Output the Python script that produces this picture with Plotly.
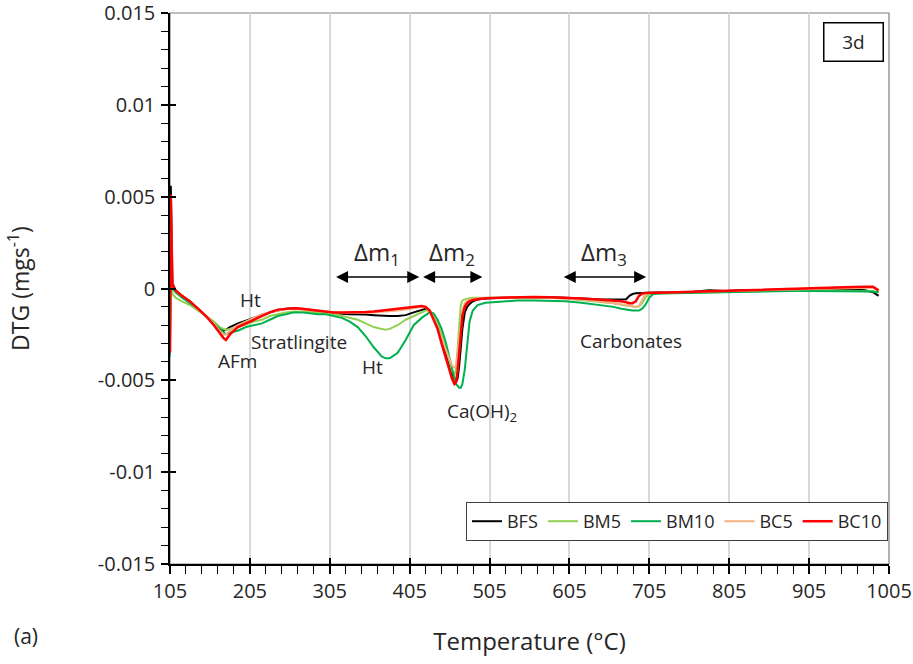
import plotly.graph_objects as go

temperature = [105, 106, 108, 112, 120, 130, 140, 150, 160, 167, 172, 175, 180, 190, 200, 210, 220, 230, 240, 250,
               260, 270, 280, 290, 300, 310, 320, 330, 340, 350, 360, 370, 375, 380, 390, 400, 410, 420, 425, 430,
               435, 440, 445, 450, 455, 458, 461, 463, 465, 467, 469, 471, 474, 477, 480, 484, 490, 500, 520, 540,
               560, 580, 600, 620, 640, 660, 670, 676, 680, 684, 688, 692, 696, 700, 705, 710, 720, 740, 760, 780,
               800, 820, 840, 860, 880, 900, 920, 940, 960, 975, 985, 992]

bfs = [-0.0030, 0.0056, 0.0003, -0.0001, -0.0004, -0.0007, -0.0011, -0.0015, -0.0019, -0.0022,
       -0.0023, -0.00225, -0.0021, -0.0019, -0.00175, -0.0016, -0.00145, -0.0013, -0.0012, -0.0011,
       -0.00108, -0.0011, -0.00115, -0.00125, -0.0013, -0.00135, -0.00138, -0.0014, -0.0014, -0.00142,
       -0.00145, -0.00148, -0.0015, -0.0015, -0.0015, -0.00145, -0.0013, -0.00118, -0.0011, -0.0012,
       -0.0016, -0.0021, -0.0028, -0.0035, -0.0042, -0.0047, -0.0050, -0.0051, -0.0049, -0.0042,
       -0.0032, -0.0022, -0.0013, -0.0010, -0.00085, -0.0007, -0.0006, -0.00055, -0.0005, -0.00048,
       -0.00047, -0.00048, -0.0005, -0.00055, -0.00058, -0.0006, -0.0006, -0.00058, -0.0004, -0.0003,
       -0.00026, -0.00025, -0.00024, -0.00024, -0.00023, -0.00022, -0.00021, -0.0002, -0.00018, -0.0001,
       -0.00013, -0.0001, -0.0001, -0.00008, -0.00006, -0.00005, -0.00004, -0.00004, -0.00005, -0.0001,
       -0.0002, -0.0004]

bm5 = [-0.0028, 0.0012, -0.0003, -0.0005, -0.0007, -0.0009, -0.0012, -0.0015, -0.0018, -0.0021,
       -0.0022, -0.00225, -0.0022, -0.0021, -0.00195, -0.0018, -0.0017, -0.0015, -0.0014, -0.0013,
       -0.00125, -0.00125, -0.00128, -0.0013, -0.00135, -0.0014, -0.0015, -0.0016, -0.0017, -0.0019,
       -0.0021, -0.0022, -0.00225, -0.0022, -0.0020, -0.0017, -0.0015, -0.0013, -0.0012, -0.0012,
       -0.0015, -0.0019, -0.0025, -0.0032, -0.0040, -0.0045, -0.0047, -0.0044, -0.0033, -0.0018,
       -0.0009, -0.00065, -0.00058, -0.00055, -0.00053, -0.0005, -0.0005, -0.0005, -0.00048, -0.00047,
       -0.00048, -0.0005, -0.00055, -0.00062, -0.0007, -0.0008, -0.00088, -0.00092, -0.00095, -0.00098,
       -0.0010, -0.00098, -0.0008, -0.0005, -0.0003, -0.00026, -0.00025, -0.00024, -0.00022, -0.0002,
       -0.00018, -0.00016, -0.00015, -0.00014, -0.00013, -0.00012, -0.00012, -0.00012, -0.00013, -0.00014,
       -0.00015, -0.0002]

bm10 = [-0.0037, 0.0003, 0.0, -0.0002, -0.0005, -0.0008, -0.0011, -0.0015, -0.0019, -0.0022,
        -0.0024, -0.0025, -0.0024, -0.0023, -0.0021, -0.0020, -0.0019, -0.0017, -0.0015, -0.0014,
        -0.0013, -0.0013, -0.00135, -0.0014, -0.0014, -0.0015, -0.0016, -0.0018, -0.0021, -0.0026,
        -0.0032, -0.0037, -0.0038, -0.0038, -0.0035, -0.0028, -0.0020, -0.0016, -0.00145, -0.0013,
        -0.00135, -0.0017, -0.0022, -0.0029, -0.0038, -0.0044, -0.0049, -0.0052, -0.0053, -0.0054,
        -0.0054, -0.0052, -0.0044, -0.0029, -0.0018, -0.0012, -0.0009, -0.00078, -0.0007, -0.00065,
        -0.00065, -0.00068, -0.0007, -0.00078, -0.00088, -0.0010, -0.0011, -0.00115, -0.00117, -0.0012,
        -0.0012, -0.0012, -0.0011, -0.0009, -0.0005, -0.0003, -0.00027, -0.00025, -0.00023, -0.00021,
        -0.0002, -0.00018, -0.00016, -0.00015, -0.00014, -0.00013, -0.00013, -0.00013, -0.00014, -0.00015,
        -0.00016, -0.0002]

bc5 = [-0.0032, 0.0045, 0.0002, -0.0001, -0.0004, -0.0007, -0.0011, -0.0015, -0.0019, -0.0023,
       -0.0025, -0.0025, -0.0023, -0.0020, -0.0018, -0.0016, -0.0014, -0.0013, -0.0012, -0.00112,
       -0.0011, -0.00112, -0.00118, -0.00122, -0.00128, -0.0013, -0.00132, -0.00133, -0.00133, -0.00132,
       -0.0013, -0.00128, -0.00126, -0.00124, -0.0012, -0.00114, -0.00105, -0.0010, -0.00102, -0.0012,
       -0.0016, -0.0021, -0.0027, -0.0033, -0.0039, -0.0042, -0.0043, -0.0042, -0.0036, -0.0027,
       -0.0018, -0.0012, -0.0008, -0.00068, -0.0006, -0.00056, -0.00054, -0.00052, -0.0005, -0.00048,
       -0.00047, -0.0005, -0.00053, -0.0006, -0.00068, -0.00078, -0.00085, -0.0009, -0.00093, -0.00097,
       -0.0010, -0.00095, -0.0006, -0.0003, -0.00025, -0.00023, -0.00022, -0.0002, -0.00018, -0.00015,
       -0.00012, -0.0001, -0.00008, -0.00006, -0.00004, -0.00002, 0.0, 0.00002, 0.00004, 0.00005,
       0.00004, -0.0001]

bc10 = [-0.0035, 0.0051, 0.0002, -0.0001, -0.0004, -0.0007, -0.0011, -0.0015, -0.0020, -0.0024,
        -0.0027, -0.0028, -0.0025, -0.0021, -0.0019, -0.0017, -0.0015, -0.0013, -0.00115, -0.0011,
        -0.00108, -0.0011, -0.00115, -0.0012, -0.00125, -0.0013, -0.0013, -0.0013, -0.0013, -0.00128,
        -0.00125, -0.0012, -0.0012, -0.00118, -0.00112, -0.00108, -0.0010, -0.00095, -0.0010, -0.0012,
        -0.0017, -0.0022, -0.0030, -0.0037, -0.0045, -0.0049, -0.0052, -0.0051, -0.0045, -0.0035,
        -0.0024, -0.0015, -0.0010, -0.0008, -0.0007, -0.00062, -0.00058, -0.00053, -0.0005, -0.00047,
        -0.00046, -0.00048, -0.0005, -0.00055, -0.0006, -0.00066, -0.0007, -0.00075, -0.0008, -0.0008,
        -0.0007, -0.0004, -0.00028, -0.00025, -0.00024, -0.00023, -0.00022, -0.0002, -0.00018, -0.00015,
        -0.00012, -0.0001, -0.00008, -0.00005, -0.00003, 0.0, 0.00003, 0.00006, 0.00008, 0.0001,
        0.0001, -0.0001]

series_names = ["BFS", "BM5", "BM10", "BC5", "BC10"]
series_values = [bfs, bm5, bm10, bc5, bc10]
series_colors = ["#000000", "#92d050", "#00b050", "#f4b183", "#ff0000"]
series_widths = [2, 2, 2, 2, 2.5]

x_ticks = [105, 205, 305, 405, 505, 605, 705, 805, 905, 1005]
y_ticks = [0.015, 0.01, 0.005, 0, -0.005, -0.01, -0.015]
y_tick_labels = ["0.015", "0.01", "0.005", "0", "-0.005", "-0.01", "-0.015"]

peak_labels = ["Ht", "AFm", "Stratlingite", "Ht", "Ca(OH)<sub>2</sub>", "Carbonates"]
peak_label_x = [206, 189, 266, 359, 496, 682]
peak_label_y = [-0.00063, -0.00395, -0.00291, -0.00427, -0.00672, -0.00286]

range_labels = ["Δm<sub>1</sub>", "Δm<sub>2</sub>", "Δm<sub>3</sub>"]
range_start = [311, 420, 596]
range_end = [417, 496, 701]
range_label_y = 0.00193
range_arrow_y = 0.00063

FONT = "Open Sans"
TXT = "#262626"

fig = go.Figure()
for name, vals, col, w in zip(series_names, series_values, series_colors, series_widths):
    fig.add_trace(go.Scatter(x=temperature, y=vals, mode="lines", name=name,
                             line=dict(color=col, width=w)))

# empty trace anchoring the overlay axes that draw the inner half of the crossing major ticks
fig.add_trace(go.Scatter(x=[], y=[], xaxis="x2", yaxis="y2", showlegend=False, hoverinfo="skip"))

annotations = []
for txt, x, y in zip(peak_labels, peak_label_x, peak_label_y):
    annotations.append(dict(x=x, y=y, xref="x", yref="y", text=txt, showarrow=False,
                            font=dict(family=FONT, size=19, color=TXT)))
for txt, s, e in zip(range_labels, range_start, range_end):
    annotations.append(dict(x=(s + e) / 2, y=range_label_y, xref="x", yref="y", text=txt,
                            showarrow=False, font=dict(family=FONT, size=24, color=TXT)))
    annotations.append(dict(x=e, y=range_arrow_y, ax=s, ay=range_arrow_y, xref="x", yref="y",
                            axref="x", ayref="y", text="", showarrow=True, arrowhead=2,
                            arrowside="end+start", arrowsize=1.6, arrowwidth=1.5, arrowcolor="#000000"))
annotations.append(dict(x=0.95, y=0.948, xref="paper", yref="paper", xanchor="center", yanchor="middle",
                        text="3d", showarrow=False, font=dict(family=FONT, size=19, color=TXT),
                        bordercolor="#000000", borderwidth=1.5, width=56, height=35, bgcolor="white"))
annotations.append(dict(x=-0.2003, y=-0.1307, xref="paper", yref="paper", xanchor="center", yanchor="middle",
                        text="(a)", showarrow=False, font=dict(family=FONT, size=21, color=TXT)))

fig.update_layout(
    width=913, height=664,
    margin=dict(l=170, r=24, t=13, b=100),
    paper_bgcolor="white", plot_bgcolor="white",
    font=dict(family=FONT, size=20, color=TXT),
    showlegend=True,
    legend=dict(orientation="h", x=0.9986, xanchor="right", y=0.1125, yanchor="top",
                bordercolor="#404040", borderwidth=1, bgcolor="white",
                font=dict(family=FONT, size=18, color=TXT), itemwidth=30,
                tracegroupgap=0),
    xaxis=dict(range=[105, 1005], tickmode="array", tickvals=x_ticks,
               ticktext=[str(v) for v in x_ticks], automargin=False,
               showgrid=True, gridcolor="#d9d9d9", gridwidth=1.5,
               showline=True, linecolor="#000000", linewidth=1.5,
               ticks="outside", ticklen=8, tickwidth=1.5, tickcolor="#000000",
               minor=dict(dtick=20, tick0=105, ticks="outside", ticklen=8, tickwidth=1.2,
                          tickcolor="#000000", showgrid=False),
               zeroline=False, ticklabelstandoff=0, ticklabeloverflow="allow",
               tickfont=dict(family=FONT, size=20, color=TXT),
               title=dict(text="Temperature (°C)", standoff=30, font=dict(family=FONT, size=24, color=TXT))),
    yaxis=dict(range=[-0.015, 0.015], tickmode="array", tickvals=y_ticks, ticktext=y_tick_labels,
               automargin=False,
               showgrid=False, showline=True, linecolor="#000000", linewidth=1.5,
               ticks="outside", ticklen=7, tickwidth=1.5, tickcolor="#000000",
               minor=dict(dtick=0.001, tick0=0, ticks="outside", ticklen=7, tickwidth=1.2,
                          tickcolor="#000000", showgrid=False),
               zeroline=False, ticklabelstandoff=2, ticklabeloverflow="allow",
               tickfont=dict(family=FONT, size=20, color=TXT),
               title=dict(text="DTG (mgs<sup>-1</sup>)", standoff=62, font=dict(family=FONT, size=23, color=TXT))),
    xaxis2=dict(range=[105, 1005], overlaying="x", anchor="y2", side="bottom",
                tickmode="array", tickvals=x_ticks, showticklabels=False, automargin=False,
                ticks="inside", ticklen=6, tickwidth=1.5, tickcolor="#000000",
                showgrid=False, showline=False, zeroline=False),
    yaxis2=dict(range=[-0.015, 0.015], overlaying="y", anchor="x2", side="left",
                tickmode="array", tickvals=y_ticks, showticklabels=False, automargin=False,
                ticks="inside", ticklen=6, tickwidth=1.5, tickcolor="#000000",
                showgrid=False, showline=False, zeroline=False),
    shapes=[dict(type="rect", xref="paper", yref="paper", x0=0, x1=1, y0=0, y1=1,
                 line=dict(color="#808080", width=1.2), layer="between")],
    annotations=annotations,
)

fig.write_html("out.html", config={"displayModeBar": False},
               post_script="document.body.style.margin='0';")
